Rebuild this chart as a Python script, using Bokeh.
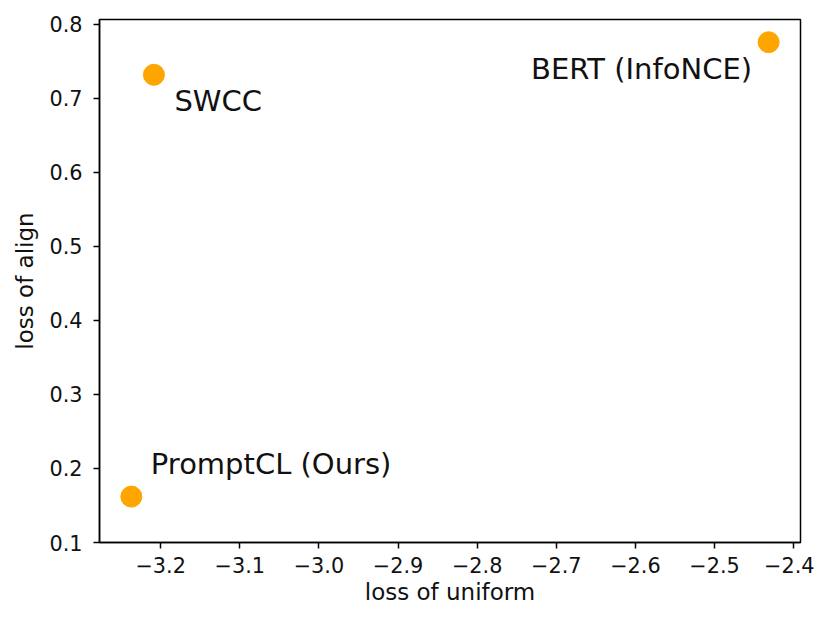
from bokeh.plotting import figure
from bokeh.models import ColumnDataSource, FixedTicker, Range1d, CustomJSTickFormatter
from bokeh.core.properties import value
from bokeh.embed import file_html
from bokeh.resources import INLINE

# ---- data ----
methods = ["PromptCL (Ours)", "SWCC", "BERT (InfoNCE)"]
loss_uniform = [-3.237, -3.2085, -2.4316]
loss_align = [0.162, 0.732, 0.776]
x_ticks = [-3.2, -3.1, -3.0, -2.9, -2.8, -2.7, -2.6, -2.5, -2.4]
y_ticks = [0.1, 0.2, 0.3, 0.4, 0.5, 0.6, 0.7, 0.8]
x_label = "loss of uniform"
y_label = "loss of align"

# ---- ranges (matplotlib-like 5% margins, bottom fixed at 0.1) ----
xmin, xmax = min(loss_uniform), max(loss_uniform)
ymin, ymax = min(loss_align), max(loss_align)
xpad = 0.05 * (xmax - xmin)
ypad = 0.05 * (ymax - ymin)

FONT = "DejaVu Sans"

p = figure(width=814, height=614, output_backend="svg", toolbar_location=None,
           x_range=Range1d(xmin - xpad, xmax + xpad),
           y_range=Range1d(0.1, ymax + ypad),
           min_border_left=99, min_border_right=14, min_border_top=19, min_border_bottom=72)
p.background_fill_color = "white"
p.border_fill_color = "white"
p.grid.visible = False
p.outline_line_color = "black"
p.outline_line_width = 1.5
p.outline_line_alpha = 1.0

fmt = CustomJSTickFormatter(code="return tick.toFixed(1).replace('-', '\\u2212');")
p.xaxis.ticker = FixedTicker(ticks=x_ticks)
p.yaxis.ticker = FixedTicker(ticks=y_ticks)
p.xaxis.formatter = fmt
p.yaxis.formatter = fmt
p.xaxis.axis_label = x_label
p.yaxis.axis_label = y_label
for ax in (p.xaxis, p.yaxis):
    ax.axis_line_width = 1.5
    ax.axis_line_color = "black"
    ax.major_tick_line_width = 1.5
    ax.major_tick_line_color = "black"
    ax.major_tick_out = 6
    ax.major_tick_in = 0
    ax.minor_tick_line_color = None
    ax.major_label_text_font = FONT
    ax.major_label_text_font_size = "20.8px"
    ax.major_label_text_color = "#111111"
    ax.axis_label_text_font = FONT
    ax.axis_label_text_font_size = "23px"
    ax.axis_label_text_font_style = "normal"
    ax.axis_label_text_color = "#111111"
p.xaxis.major_label_standoff = 8
p.yaxis.major_label_standoff = 11
p.xaxis.axis_label_standoff = 3
p.yaxis.axis_label_standoff = 8

src = ColumnDataSource(dict(x=loss_uniform, y=loss_align, name=methods))
p.scatter("x", "y", source=src, size=21, fill_color="orange", line_color="orange")

# label placement (screen-pixel offsets from each point)
label_dx = [19.5, 20.5, -16.6]
label_dy = [-32.5, 26.0, 26.6]
label_align = ["left", "left", "right"]
for i in range(len(methods)):
    p.text(x=[loss_uniform[i]], y=[loss_align[i]], text=[methods[i]],
           x_offset=label_dx[i], y_offset=label_dy[i],
           text_align=label_align[i], text_baseline="alphabetic",
           text_font=value(FONT), text_font_size="29px", text_color="#111111")

open("out.html", "w").write(file_html(p, INLINE))
